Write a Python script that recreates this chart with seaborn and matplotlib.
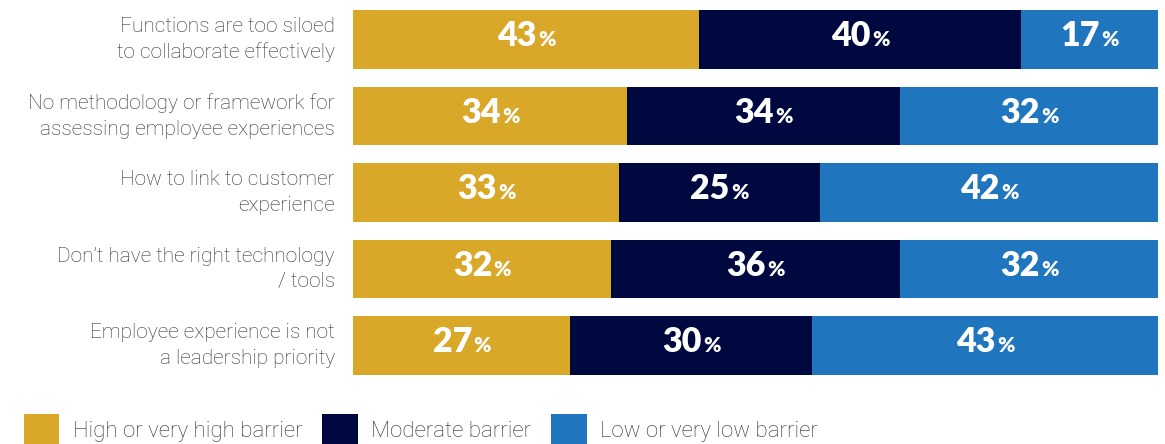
import matplotlib
matplotlib.use("Agg")
import matplotlib.pyplot as plt
import seaborn as sns
import pandas as pd
import numpy as np
from matplotlib.patches import Patch

categories = [
    "Functions are too siloed\nto collaborate effectively",
    "No methodology or framework for\nassessing employee experiences",
    "How to link to customer\nexperience",
    "Don\u2019t have the right technology\n/ tools",
    "Employee experience is not\na leadership priority",
]
high = [43, 34, 33, 32, 27]
moderate = [40, 34, 25, 36, 30]
low = [17, 32, 42, 32, 43]
series_names = ["High or very high barrier", "Moderate barrier", "Low or very low barrier"]
colors = ["#D9A829", "#000840", "#1F75BE"]

sns.set_theme(style="white")
plt.rcParams['font.family'] = ['Roboto', 'DejaVu Sans']

fig = plt.figure(figsize=(11.65, 4.44), dpi=100)
ax = fig.add_axes([353/1165, 1-383.75/444, 805/1165, 382.5/444])

df = pd.DataFrame({"cat": categories, "high": high, "moderate": moderate, "low": low})
df["c1"] = df["high"]
df["c2"] = df["high"] + df["moderate"]
df["c3"] = df["high"] + df["moderate"] + df["low"]

for col, color in zip(["c3", "c2", "c1"], colors[::-1]):
    sns.barplot(data=df, x=col, y="cat", orient="h", color=color, width=0.77,
                linewidth=0, saturation=1, ax=ax)

ax.set_xlim(0, 100)
ax.set_ylim(4.5, -0.5)
ax.set_xlabel("")
ax.set_ylabel("")
ax.set_xticks([])
sns.despine(ax=ax, left=True, bottom=True)
ax.tick_params(axis="y", length=0, pad=13)
ax.set_yticks(range(len(categories)))
ax.set_yticklabels(categories, fontsize=15, color="#2e2e2e", linespacing=1.45, ha="right",
                   va="center", fontweight="light")

numfont = ["Lato", "DejaVu Sans"]
for i in range(len(categories)):
    starts = [0, high[i], high[i] + moderate[i]]
    vals = [high[i], moderate[i], low[i]]
    for s, v in zip(starts, vals):
        cx = s + v / 2
        ax.annotate(f"{v}", xy=(cx, i), xytext=(7.5, -4.8), textcoords="offset points",
                    ha="right", va="baseline", fontsize=24.5, fontweight="heavy",
                    color="white", family=numfont)
        ax.annotate("%", xy=(cx, i), xytext=(8.6, -4.8), textcoords="offset points",
                    ha="left", va="baseline", fontsize=15, fontweight="heavy", color="white",
                    family=numfont)

handles = [Patch(facecolor=c, edgecolor="none") for c in colors]
fig.legend(handles, series_names, loc="lower left", bbox_to_anchor=(15/1165, -10/444),
           ncol=3, frameon=False, labelcolor="#2e2e2e",
           prop={"weight": "light", "size": 16},
           handlelength=1.58, handleheight=1.75, handletextpad=0.62, columnspacing=0.9,
           borderaxespad=0)

fig.savefig("out.png", dpi=100)
